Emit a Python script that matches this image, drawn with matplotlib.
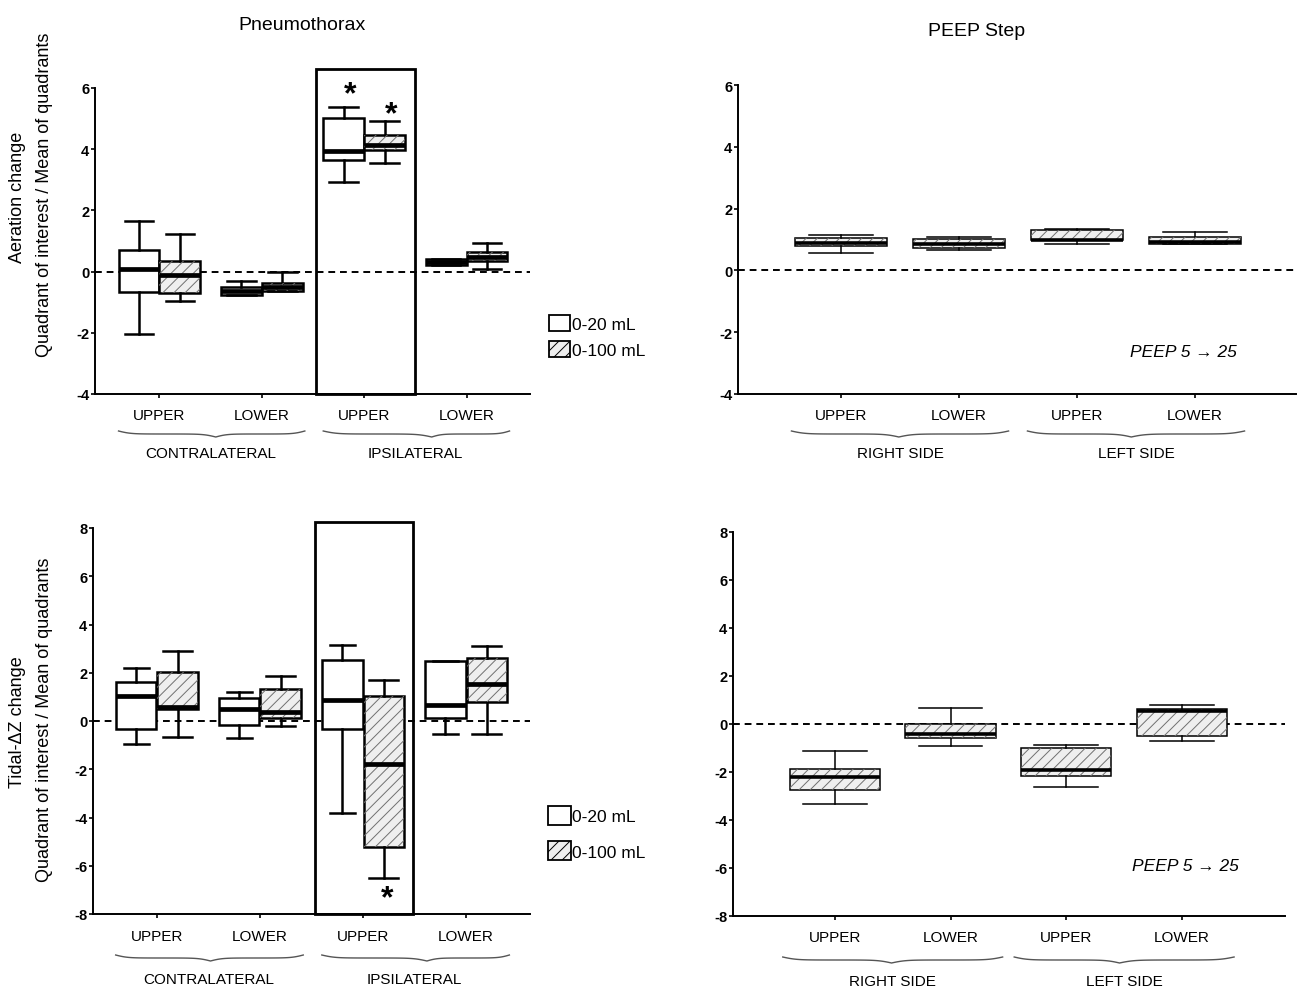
import numpy as np
import matplotlib
matplotlib.use("Agg")
import matplotlib.pyplot as plt
from matplotlib.patches import Patch, PathPatch, Rectangle
from matplotlib.transforms import ScaledTranslation

plt.rcParams['font.family'] = ['Liberation Sans', 'DejaVu Sans']
plt.rcParams['hatch.linewidth'] = 0.7

# box stats per quadrant: [whisker low, q1, median, q3, whisker high]
sites = ['UPPER', 'LOWER', 'UPPER', 'LOWER']
pnx_groups = ['CONTRALATERAL', 'IPSILATERAL']
peep_groups = ['RIGHT SIDE', 'LEFT SIDE']
legend_labels = ['0-20 mL', '0-100 mL']

aer_pnx_20 = [[-2.05, -0.67, 0.10, 0.70, 1.64],
              [-0.78, -0.76, -0.62, -0.50, -0.32],
              [2.93, 3.65, 3.95, 5.02, 5.37],
              [0.22, 0.22, 0.32, 0.41, 0.41]]
aer_pnx_100 = [[-0.95, -0.69, -0.12, 0.35, 1.22],
               [-0.64, -0.64, -0.50, -0.36, 0.0],
               [3.54, 3.98, 4.13, 4.48, 4.91],
               [0.10, 0.34, 0.48, 0.63, 0.92]]
aer_peep = [[0.57, 0.78, 0.88, 1.05, 1.13],
            [0.65, 0.72, 0.86, 1.02, 1.08],
            [0.86, 1.00, 1.00, 1.31, 1.35],
            [0.84, 0.84, 0.92, 1.08, 1.24]]

tdz_pnx_20 = [[-0.94, -0.32, 1.03, 1.61, 2.21],
              [-0.70, -0.18, 0.51, 0.95, 1.20],
              [-3.83, -0.32, 0.88, 2.54, 3.16],
              [-0.55, 0.14, 0.68, 2.48, 2.48]]
tdz_pnx_100 = [[-0.66, 0.48, 0.58, 2.03, 2.92],
               [-0.21, 0.14, 0.37, 1.34, 1.85],
               [-6.52, -5.21, -1.77, 1.02, 1.68],
               [-0.55, 0.79, 1.52, 2.61, 3.09]]
tdz_peep = [[-3.32, -2.76, -2.21, -1.86, -1.14],
            [-0.93, -0.58, -0.40, 0.01, 0.67],
            [-2.62, -2.16, -1.90, -0.99, -0.89],
            [-0.72, -0.50, 0.54, 0.61, 0.80]]

W, H = 1312, 987
fig = plt.figure(figsize=(W / 100, H / 100), dpi=100)


def px_axes(l, t, r, b):
    return fig.add_axes([l / W, 1 - b / H, (r - l) / W, (b - t) / H])


def stats(rows):
    return [dict(whislo=r[0], q1=r[1], med=r[2], q3=r[3], whishi=r[4]) for r in rows]


def draw_boxes(ax, rows, pos, width, hatched, lw, mlw, capw):
    bp = ax.bxp(stats(rows), positions=pos, widths=width, patch_artist=True,
                showfliers=False, capwidths=capw, manage_ticks=False,
                boxprops=dict(lw=lw, edgecolor='black',
                              facecolor='#efefef' if hatched else 'white'),
                medianprops=dict(color='black', lw=mlw, solid_capstyle='butt'),
                whiskerprops=dict(lw=lw, color='black'),
                capprops=dict(lw=lw, color='black'))
    if hatched:
        for b in bp['boxes']:
            ax.add_patch(PathPatch(b.get_path(), transform=b.get_transform(),
                                   facecolor='none', edgecolor='#707070',
                                   hatch='///', lw=0, zorder=b.get_zorder() + 0.05))


def style(ax, xlim, ylim, yticks):
    ax.set_xlim(*xlim)
    ax.set_ylim(*ylim)
    ax.set_yticks(yticks)
    ax.set_yticklabels([str(t) for t in yticks], fontsize=10.5, fontweight='bold')
    ax.set_xticks(range(4))
    ax.set_xticklabels([])
    ax.tick_params(length=3, width=1.2, pad=1)
    for s in ['top', 'right']:
        ax.spines[s].set_visible(False)
    for s in ['left', 'bottom']:
        ax.spines[s].set_linewidth(1.4)
    ax.axhline(0, color='black', ls=(0, (3.5, 2.5)), lw=1.4, zorder=1, clip_on=False)
    ax.set_facecolor('none')


def off(ax, dy_px):
    return ax.get_xaxis_transform() + ScaledTranslation(0, -dy_px / 100, fig.dpi_scale_trans)


def brace(ax, x0, x1, xtip, dy, h=6):
    t = np.linspace(0, 1, 60)
    beta = 16
    s = 1 / (1 + np.exp(-beta * t)) + 1 / (1 + np.exp(-beta * (t - 1)))
    s = -(s - 0.5) * h
    xl = x0 + (xtip - x0) * t
    xr = x1 - (x1 - xtip) * t
    xs = np.concatenate([xl, xr[::-1]])
    ys = np.concatenate([s, s[::-1]]) - dy
    ah = ax.get_position().height * H
    ax.plot(xs, ys / ah, transform=ax.get_xaxis_transform(), color='#555555',
            lw=1.0, clip_on=False)


def labels(ax, groups, tips, dl, db, dg, span=(-0.4, 1.42)):
    for k, s in enumerate(sites):
        ax.text(k, 0, s, transform=off(ax, dl), ha='center', va='center', fontsize=11)
    for g, name in enumerate(groups):
        base = 2 * g
        brace(ax, base + span[0], base + span[1], base + tips[g], db)
        ax.text(base + 0.5, 0, name, transform=off(ax, dg), ha='center', va='center',
                fontsize=11)


pos = np.arange(4)

# ---- top left: aeration, pneumothorax
ax1 = px_axes(95, 89, 530, 395)
style(ax1, (-0.63, 3.62), (-4, 6), [-4, -2, 0, 2, 4, 6])
draw_boxes(ax1, aer_pnx_20, pos - 0.2, 0.4, False, 1.8, 3.4, 0.28)
draw_boxes(ax1, aer_pnx_100, pos + 0.2, 0.4, True, 1.8, 3.4, 0.28)
ax1.add_patch(Rectangle((2 - 0.47, -4), 0.97, 10.63, fill=False, lw=2, clip_on=False, zorder=3))
ax1.text(1.86, 5.8, '*', ha='center', va='center', fontsize=23, fontweight='bold')
ax1.text(2.26, 5.15, '*', ha='center', va='center', fontsize=23, fontweight='bold')
labels(ax1, pnx_groups, [0.55, 0.66], 21, 37, 59)
fig.text(302 / W, 1 - 26 / H, 'Pneumothorax', ha='center', va='center', fontsize=14)

# ---- top right: aeration, PEEP
ax2 = px_axes(738, 86, 1296, 395)
style(ax2, (-0.873, 3.856), (-4, 6), [-4, -2, 0, 2, 4, 6])
draw_boxes(ax2, aer_peep, pos, 0.78, True, 1.1, 2.6, 0.55)
ax2.text(2.9, -2.64, 'PEEP 5 → 25', ha='center', va='center',
         fontsize=12.5, style='italic')
labels(ax2, peep_groups, [0.49, 0.46], 21, 37, 59, span=(-0.42, 1.42))
fig.text(977 / W, 1 - 32 / H, 'PEEP Step', ha='center', va='center', fontsize=14)

# ---- bottom left: tidal, pneumothorax
ax3 = px_axes(93, 529, 530, 915)
style(ax3, (-0.62, 3.62), (-8, 8), [-8, -6, -4, -2, 0, 2, 4, 6, 8])
draw_boxes(ax3, tdz_pnx_20, pos - 0.2, 0.39, False, 1.8, 3.4, 0.24)
draw_boxes(ax3, tdz_pnx_100, pos + 0.2, 0.39, True, 1.8, 3.4, 0.28)
ax3.add_patch(Rectangle((2 - 0.47, -8), 0.95, 16.25, fill=False, lw=2, clip_on=False, zorder=3))
ax3.text(2.23, -7.35, '*', ha='center', va='center', fontsize=23, fontweight='bold')
labels(ax3, pnx_groups, [0.52, 0.62], 22, 41, 65)

# ---- bottom right: tidal, PEEP
ax4 = px_axes(733, 533, 1285, 917)
style(ax4, (-0.88, 3.89), (-8, 8), [-8, -6, -4, -2, 0, 2, 4, 6, 8])
draw_boxes(ax4, tdz_peep, pos, 0.78, True, 1.1, 2.6, 0.55)
ax4.text(3.03, -5.88, 'PEEP 5 → 25', ha='center', va='center',
         fontsize=12.5, style='italic')
labels(ax4, peep_groups, [0.49, 0.46], 21, 41, 65, span=(-0.45, 1.45))

# y labels
fig.text(18 / W, 1 - 197 / H, 'Aeration change', rotation=90, ha='center', va='center', fontsize=13)
fig.text(45 / W, 1 - 195 / H, 'Quadrant of interest / Mean of quadrants', rotation=90,
         ha='center', va='center', fontsize=13)
fig.text(18 / W, 1 - 722 / H, 'Tidal-ΔZ change', rotation=90, ha='center', va='center', fontsize=13)
fig.text(45 / W, 1 - 720 / H, 'Quadrant of interest / Mean of quadrants', rotation=90,
         ha='center', va='center', fontsize=13)

# legends
handles = [Patch(facecolor='white', edgecolor='black', lw=1.3),
           Patch(facecolor='#efefef', edgecolor='black', hatch='///', lw=1.3)]
fig.legend(handles, legend_labels, loc='upper left', bbox_to_anchor=(549 / W, 1 - 316 / H),
           frameon=False, handlelength=1.2, handleheight=1.0, handletextpad=0.1,
           labelspacing=0.55, fontsize=12.5, borderpad=0, borderaxespad=0)
fig.legend(handles, legend_labels, loc='upper left', bbox_to_anchor=(548 / W, 1 - 807 / H),
           frameon=False, handlelength=1.3, handleheight=1.3, handletextpad=0.1,
           labelspacing=0.95, fontsize=12.5, borderpad=0, borderaxespad=0)

fig.savefig('out.png', dpi=100)
